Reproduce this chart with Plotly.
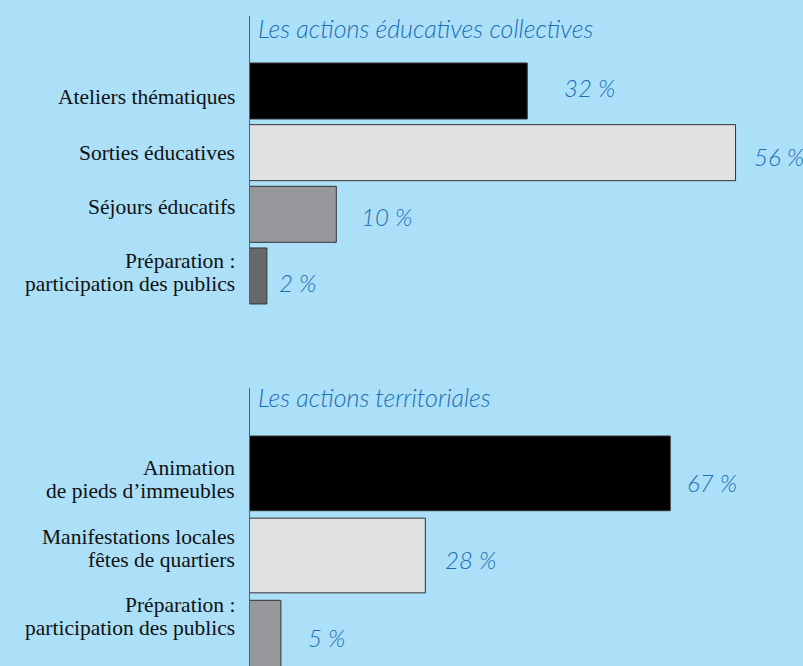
import plotly.graph_objects as go

# ---- data ----
title_1 = "Les actions éducatives collectives"
categories_1 = ["Ateliers thématiques", "Sorties éducatives", "Séjours éducatifs",
                "Préparation :<br>participation des publics"]
values_1 = [32, 56, 10, 2]

title_2 = "Les actions territoriales"
categories_2 = ["Animation<br>de pieds d’immeubles", "Manifestations locales<br>fêtes de quartiers",
                "Préparation :<br>participation des publics"]
values_2 = [67, 28, 5]

# ---- styles / offsets (screen px) ----
colors_1 = ["#000000", "#e0e1e3", "#97989b", "#68686a"]
colors_2 = ["#000000", "#e0e1e3", "#97989b"]
label_dx_1 = [35, 16, 23, 10]
label_dy_1 = [-3, 4, 2, 7]
label_dx_2 = [15, 18, 25]
label_dy_2 = [9, 4, 0]
cat_dy_1 = [6, 0, -7, -3]
cat_dy_2 = [6, -7, -21]

W, H = 803, 666
BG = "#abe0f8"
BLUE = "#1f6db3"
x0 = 249.5 / W
SCRIPT = "Lato"
LINE_GAP = 23

fig = go.Figure()
fig.add_trace(go.Bar(
    x=values_1, y=list(range(len(values_1))), orientation="h",
    marker=dict(color=colors_1, line=dict(color="#333333", width=1)),
    width=0.908, xaxis="x", yaxis="y", showlegend=False, hoverinfo="skip"))
fig.add_trace(go.Bar(
    x=values_2, y=list(range(len(values_2))), orientation="h",
    marker=dict(color=colors_2, line=dict(color="#333333", width=1)),
    width=0.909, xaxis="x2", yaxis="y2", showlegend=False, hoverinfo="skip"))

fig.update_layout(
    width=W, height=H, autosize=False,
    margin=dict(l=0, r=0, t=0, b=0),
    paper_bgcolor=BG, plot_bgcolor=BG,
    xaxis=dict(domain=[x0, 1], range=[0, 63.77], visible=False, fixedrange=True),
    yaxis=dict(domain=[1 - 306.8 / H, 1 - 60.17 / H], range=[3.5, -0.5],
               visible=False, anchor="x"),
    xaxis2=dict(domain=[x0, 1], range=[0, 88.14], visible=False, anchor="y2", fixedrange=True),
    yaxis2=dict(domain=[0, 1 - 432.27 / H], range=[2.345, -0.5],
                visible=False, anchor="x2"),
)

# vertical blue lines
fig.add_shape(type="line", xref="paper", yref="paper", x0=x0, x1=x0,
              y0=1 - 304 / H, y1=1 - 16 / H, line=dict(color=BLUE, width=1))
fig.add_shape(type="line", xref="paper", yref="paper", x0=x0, x1=x0,
              y0=0, y1=1 - 388 / H, line=dict(color=BLUE, width=1))

# titles
titlefont = dict(family=SCRIPT, size=25, color=BLUE, style="italic", weight=300)
fig.add_annotation(text=title_1, xref="paper", yref="paper", x=256 / W, y=1 - 28 / H,
                   xanchor="left", yanchor="middle", showarrow=False, font=titlefont)
fig.add_annotation(text=title_2, xref="paper", yref="paper", x=256 / W, y=1 - 397 / H,
                   xanchor="left", yanchor="middle", showarrow=False, font=titlefont)

# category labels (one annotation per line, right-aligned)
catfont = dict(family="Liberation Serif", size=21.5, color="#111111")
def add_cats(cats, dys, yref):
    for i, c in enumerate(cats):
        lines = c.split("<br>")
        n = len(lines)
        for k, ln in enumerate(lines):
            off = dys[i] + (k - (n - 1) / 2) * LINE_GAP
            fig.add_annotation(text=ln, xref="paper", yref=yref, x=236 / W, y=i,
                               xanchor="right", yanchor="middle", yshift=-off,
                               showarrow=False, font=catfont, borderpad=0)
add_cats(categories_1, cat_dy_1, "y")
add_cats(categories_2, cat_dy_2, "y2")

pctfont = dict(family=SCRIPT, size=24, color=BLUE, style="italic", weight=300)
for i, v in enumerate(values_1):
    fig.add_annotation(text=f"{v} %", xref="x", yref="y", x=v, y=i, xanchor="left",
                       yanchor="middle", xshift=label_dx_1[i], yshift=-label_dy_1[i],
                       showarrow=False, font=pctfont)
for i, v in enumerate(values_2):
    fig.add_annotation(text=f"{v} %", xref="x2", yref="y2", x=v, y=i, xanchor="left",
                       yanchor="middle", xshift=label_dx_2[i], yshift=-label_dy_2[i],
                       showarrow=False, font=pctfont)

fig.write_html("out.html", config={"displayModeBar": False},
               post_script="document.body.style.margin='0';document.body.style.background='" + BG + "';")
